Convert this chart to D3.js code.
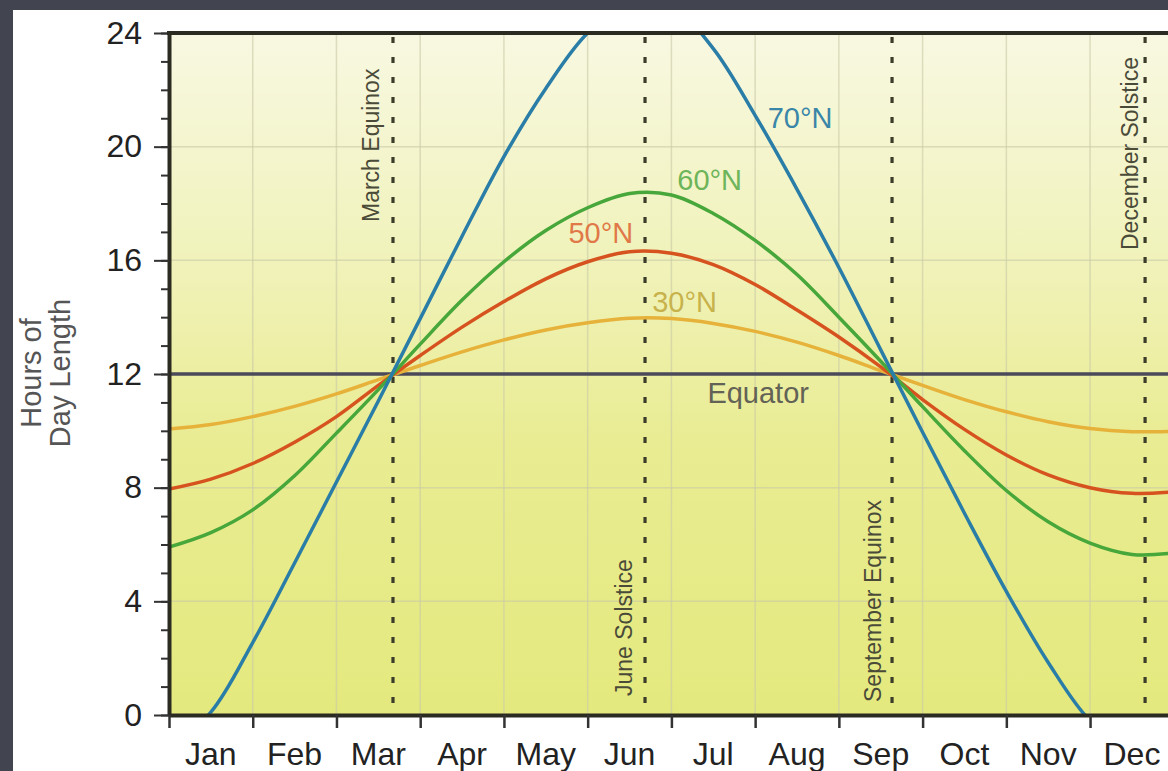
<!DOCTYPE html>
<html>
<head>
<meta charset="utf-8">
<script src="https://cdn.jsdelivr.net/npm/d3@7/dist/d3.min.js"></script>
<style>
  body { margin: 0; background: #fff; }
  svg text { font-family: "Liberation Sans", Arial, Helvetica, sans-serif; }
</style>
</head>
<body>
<svg width="1168" height="771"></svg>
<script>
// month labels, one per month, drawn mid-month
var monthNames = ["Jan", "Feb", "Mar", "Apr", "May", "Jun", "Jul", "Aug", "Sep", "Oct", "Nov", "Dec"];
var hourTicks = [0, 4, 8, 12, 16, 20, 24];

// sample positions in months since Jan 1 (0 = Jan 1, 12 = end of Dec)
var samplePos = [0, 0.5, 1, 1.5, 2, 2.5, 3, 3.5, 4, 4.5, 5, 5.5, 6, 6.5, 7, 7.5, 8, 8.5, 9, 9.5, 10, 10.5, 11, 11.5, 12];

// hours of day length
var equator = [12, 12, 12, 12, 12, 12, 12, 12, 12, 12, 12, 12, 12, 12, 12, 12, 12, 12, 12, 12, 12, 12, 12, 12, 12];
var lat30 = [10.06, 10.22, 10.5, 10.86, 11.3, 11.8, 12.3, 12.78, 13.2, 13.55, 13.8, 13.96, 13.95, 13.78, 13.5, 13.12, 12.65, 12.12, 11.6, 11.1, 10.67, 10.32, 10.08, 9.97, 9.98];
var lat50 = [7.95, 8.3, 8.85, 9.6, 10.5, 11.6, 12.65, 13.65, 14.55, 15.35, 15.95, 16.3, 16.25, 15.85, 15.15, 14.25, 13.3, 12.25, 11.1, 10.05, 9.15, 8.45, 8.0, 7.8, 7.85];
var lat60 = [5.91, 6.42, 7.22, 8.42, 9.92, 11.45, 13.05, 14.6, 15.95, 17.05, 17.85, 18.35, 18.3, 17.65, 16.7, 15.5, 14.0, 12.45, 10.85, 9.3, 7.9, 6.8, 6.05, 5.65, 5.7];
var lat70 = [-1.15, 0.1, 2.55, 5.35, 8.2, 11.05, 13.95, 16.85, 19.65, 22.05, 24.0, 25.05, 24.95, 23.45, 21.1, 18.5, 15.75, 12.85, 9.95, 7.1, 4.35, 1.85, -0.2, -1.25, -1.15];

// solstices and equinoxes (months since Jan 1)
var eventNames = ["March Equinox", "June Solstice", "September Equinox", "December Solstice"];
var eventPos = [2.675, 5.685, 8.635, 11.657];

var svg = d3.select("svg");

var x = d3.scaleLinear().domain([0, 12]).range([169, 1173.8]);
var y = d3.scaleLinear().domain([0, 24]).range([715, 33]);

// dark frame, then white page
svg.append("rect").attr("width", 1168).attr("height", 771).attr("fill", "#424550");
svg.append("rect").attr("x", 13).attr("y", 10).attr("width", 1155).attr("height", 761).attr("fill", "#ffffff");

var defs = svg.append("defs");
var grad = defs.append("linearGradient").attr("id", "bg").attr("x1", 0).attr("y1", 0).attr("x2", 0).attr("y2", 1);
grad.append("stop").attr("offset", "0%").attr("stop-color", "#f8f8e2");
grad.append("stop").attr("offset", "35%").attr("stop-color", "#f0f2b8");
grad.append("stop").attr("offset", "60%").attr("stop-color", "#e9ec92");
grad.append("stop").attr("offset", "100%").attr("stop-color", "#e4e97e");

defs.append("clipPath").attr("id", "plot")
  .append("rect")
  .attr("x", x(0)).attr("y", y(24))
  .attr("width", x(12) - x(0)).attr("height", y(0) - y(24));

svg.append("rect")
  .attr("x", x(0)).attr("y", y(24))
  .attr("width", x(12) - x(0)).attr("height", y(0) - y(24))
  .attr("fill", "url(#bg)");

// grid
var grid = svg.append("g").attr("stroke", "#c9c9a6").attr("stroke-opacity", 0.6).attr("stroke-width", 1.5);
grid.selectAll(".vg").data(d3.range(1, 12)).enter().append("line")
  .attr("x1", d => x(d)).attr("x2", d => x(d))
  .attr("y1", y(24)).attr("y2", y(0));
grid.selectAll(".hg").data(hourTicks.slice(1, -1)).enter().append("line")
  .attr("x1", x(0)).attr("x2", x(12))
  .attr("y1", d => y(d)).attr("y2", d => y(d));

// solstice / equinox dotted lines
svg.append("g").selectAll("line").data(eventPos).enter().append("line")
  .attr("x1", d => x(d)).attr("x2", d => x(d))
  .attr("y1", y(24) + 4).attr("y2", y(0))
  .attr("stroke", "#3c3c2a")
  .attr("stroke-width", 3.2)
  .attr("stroke-dasharray", "6,14");

// event labels, rotated
var evLabelX = [-14, -13, -11, -7];
var evLabelY = [222, 696, 702, 250];
svg.append("g").selectAll("text").data(eventNames).enter().append("text")
  .attr("transform", (d, i) => "translate(" + (x(eventPos[i]) + evLabelX[i]) + "," + evLabelY[i] + ") rotate(-90)")
  .attr("font-size", 23)
  .attr("fill", "#4a4a38")
  .text(d => d);

// curves
var line = d3.line()
  .x((d, i) => x(samplePos[i]))
  .y(d => y(d))
  .curve(d3.curveCatmullRom.alpha(0.5));

var curves = svg.append("g").attr("clip-path", "url(#plot)").attr("fill", "none");
curves.append("path").datum(equator).attr("d", line).attr("stroke", "#4b4a5a").attr("stroke-width", 3.5);
var series = [
  { v: lat30, c: "#e6b23a" },
  { v: lat50, c: "#d6531f" },
  { v: lat60, c: "#48a73a" },
  { v: lat70, c: "#2a7da6" }
];
curves.selectAll(".s").data(series).enter().append("path")
  .attr("d", d => line(d.v))
  .attr("stroke", d => d.c)
  .attr("stroke-width", 3.5);

// series labels
var labels = [
  { t: "70°N", m: 7.15, h: 20.65, c: "#3a86a8" },
  { t: "60°N", m: 6.07, h: 18.47, c: "#6db45a" },
  { t: "50°N", m: 4.77, h: 16.6, c: "#e07848" },
  { t: "30°N", m: 5.77, h: 14.18, c: "#c8b24c" },
  { t: "Equator", m: 6.43, h: 10.98, c: "#626256" }
];
svg.append("g").selectAll("text").data(labels).enter().append("text")
  .attr("x", d => x(d.m)).attr("y", d => y(d.h))
  .attr("font-size", 29)
  .attr("fill", d => d.c)
  .text(d => d.t);

// y axis: minor ticks every hour, major every 4
svg.append("g")
  .attr("transform", "translate(" + x(0) + ",0)")
  .call(d3.axisLeft(y).tickValues(d3.range(0, 25)).tickSize(8).tickSizeOuter(0).tickFormat(""))
  .call(g => g.select(".domain").remove())
  .call(g => g.selectAll("line").attr("stroke", "#333").attr("stroke-width", 2));

svg.append("g")
  .attr("transform", "translate(" + x(0) + ",0)")
  .call(d3.axisLeft(y).tickValues(hourTicks).tickSize(15).tickSizeOuter(0).tickPadding(12))
  .call(g => g.select(".domain").attr("stroke", "#2b2b22").attr("stroke-width", 4))
  .call(g => g.selectAll("line").attr("stroke", "#333").attr("stroke-width", 2))
  .call(g => g.selectAll("text").attr("font-size", 32).attr("fill", "#222").attr("font-family", null));

// x axis
svg.append("g")
  .attr("transform", "translate(0," + y(0) + ")")
  .call(d3.axisBottom(x).tickValues(d3.range(0, 13)).tickSize(13).tickSizeOuter(0).tickFormat(""))
  .call(g => g.select(".domain").attr("stroke", "#2b2b22").attr("stroke-width", 4))
  .call(g => g.selectAll("line").attr("stroke", "#333").attr("stroke-width", 2.5));

svg.append("g").selectAll("text").data(monthNames).enter().append("text")
  .attr("x", (d, i) => x(i + 0.5))
  .attr("y", 765)
  .attr("text-anchor", "middle")
  .attr("font-size", 32)
  .attr("fill", "#222")
  .text(d => d);

// top border
svg.append("line")
  .attr("x1", x(0) - 2).attr("x2", 1168)
  .attr("y1", y(24)).attr("y2", y(24))
  .attr("stroke", "#2b2b22").attr("stroke-width", 4);

// y axis title
var title = svg.append("text")
  .attr("transform", "translate(0,373) rotate(-90)")
  .attr("text-anchor", "middle")
  .attr("font-size", 29)
  .attr("fill", "#555");
title.append("tspan").attr("x", 0).attr("y", 41).text("Hours of");
title.append("tspan").attr("x", 0).attr("y", 70).text("Day Length");
</script>
</body>
</html>
